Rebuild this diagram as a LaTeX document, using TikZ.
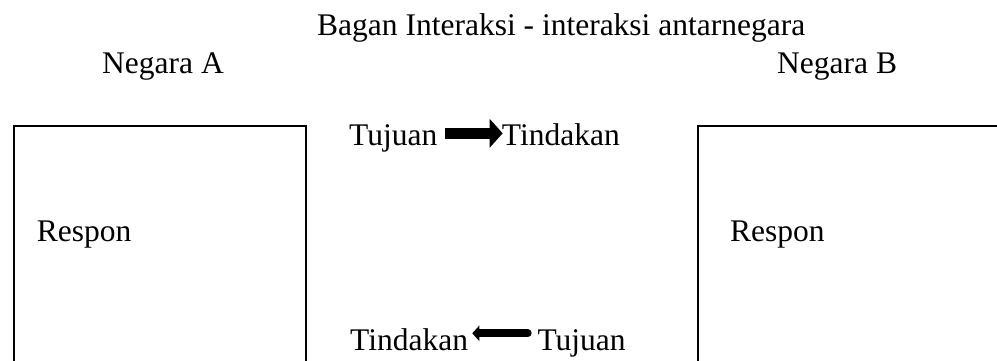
\documentclass[tikz,border=0pt]{standalone}
\usepackage{fontspec}
\setmainfont{Liberation Serif}
\usetikzlibrary{arrows.meta}
\tikzset{
  txt/.style={inner sep=0pt, anchor=base west, font=\fontsize{31.5}{38}\selectfont},
  boxline/.style={draw=black, line width=2pt},
  bigarrow/.style={line width=11pt, -{Triangle[length=13pt,width=28pt]}},
  smallarrow/.style={line width=8pt, line cap=round, -{Triangle[length=7pt,width=15pt]}}
}
\begin{document}
\begin{tikzpicture}[x=1pt,y=-1pt]
\clip (0,0) rectangle (997,360);
\fill[white] (0,0) rectangle (997,360);
% boxes
\draw[boxline] (13.7,400) -- (13.7,125.7) -- (306,125.7) -- (306,400);
\draw[boxline] (698,400) -- (698,125.7) -- (1100,125.7);
% texts
\node[txt] (title) at (317,35) {Bagan Interaksi - interaksi antarnegara};
\node[txt] (na) at (102,73) {Negara A};
\node[txt] (nb) at (777,73) {Negara B};
\node[txt] (tu1) at (349,145) {Tujuan};
\node[txt] (ti1) at (501.7,145) {Tindakan};
\node[txt] (ra) at (36.7,241.7) {Respon};
\node[txt] (rb) at (730,241.7) {Respon};
\node[txt] (ti2) at (350,350.7) {Tindakan};
\node[txt] (tu2) at (537.3,350.7) {Tujuan};
% arrows
\draw[bigarrow] ([xshift=7pt,yshift=11.7pt]tu1.base east) -- ([xshift=1pt,yshift=11.7pt]ti1.base west);
\draw[smallarrow] ([xshift=-9.6pt,yshift=17.4pt]tu2.base west) -- ([xshift=4pt,yshift=17.4pt]ti2.base east);
\end{tikzpicture}
\end{document}
